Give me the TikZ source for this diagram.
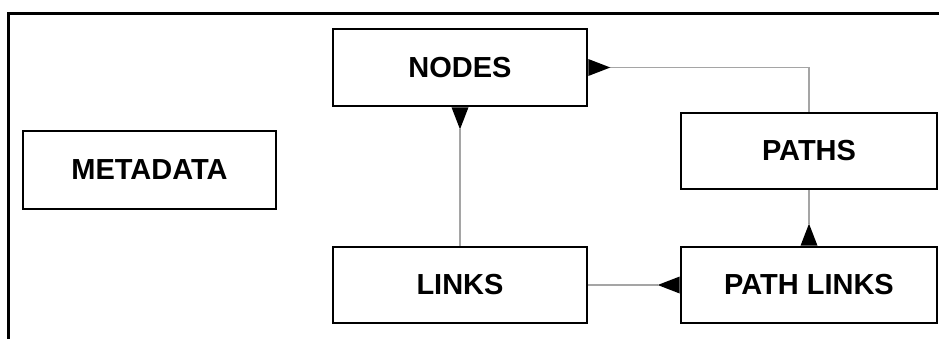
\documentclass[tikz,border=0pt]{standalone}
\usepackage{fontspec}
\setmainfont{Liberation Sans}
\usetikzlibrary{arrows.meta}
\definecolor{conngray}{RGB}{165,165,165}
\tikzset{
  tbl/.style={draw=black, line width=2.6pt, fill=white, rectangle, inner sep=0pt,
    font=\bfseries\fontsize{29}{32}\selectfont},
  conn/.style={draw=conngray, line width=1.4pt},
  foot/.style={-{Triangle[reversed, length=22pt, width=17pt, color=black, fill=black, line width=0pt]}}
}
\begin{document}
\begin{tikzpicture}[x=1pt, y=-1pt]
\useasboundingbox (0,0) rectangle (939,338);
\draw[line width=3pt] (8.5,340) -- (8.5,13.5) -- (941,13.5);
\node[tbl, minimum width=253pt, minimum height=78pt] (meta) at (149.5,170) {METADATA};
\node[tbl, minimum width=254pt, minimum height=77pt] (nodes) at (460,67.5) {NODES};
\node[tbl, minimum width=256pt, minimum height=76pt] (paths) at (809,151) {PATHS};
\node[tbl, minimum width=254pt, minimum height=76pt] (links) at (460,285) {LINKS};
\node[tbl, minimum width=256pt, minimum height=76pt] (plinks) at (809,285) {PATH LINKS};
\draw[conn, foot] (links.north) -- (nodes.south);
\draw[conn, foot] (paths.north) |- (nodes.east);
\draw[conn, foot] (paths.south) -- (plinks.north);
\draw[conn, foot] (links.east) -- (plinks.west);
\end{tikzpicture}
\end{document}
